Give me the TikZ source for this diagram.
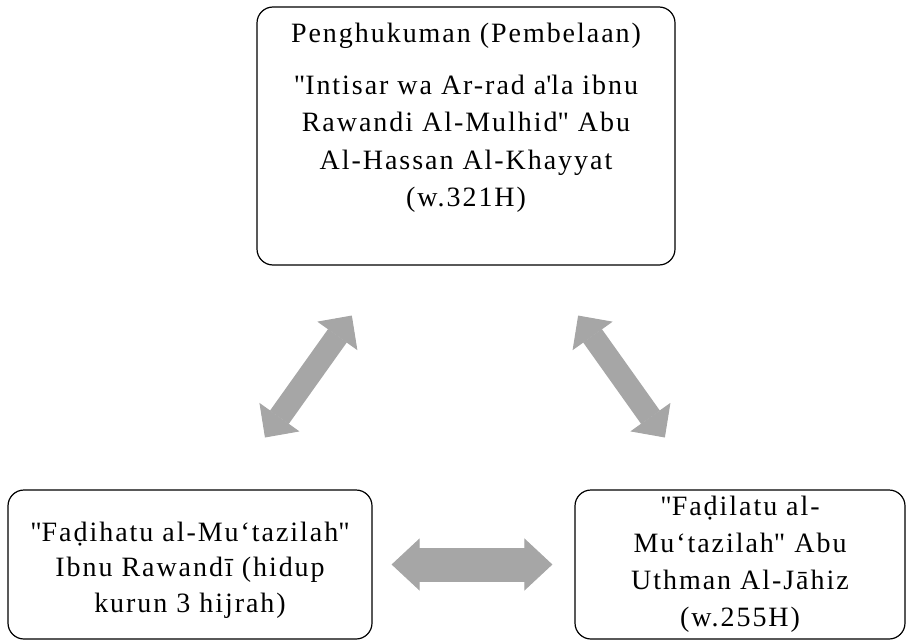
\documentclass[tikz,border=0pt]{standalone}
\usepackage{fontspec}
\setmainfont{Liberation Serif}[LetterSpace=7]
\usetikzlibrary{arrows.meta}

\begin{document}
\begin{tikzpicture}[
      x=1pt, y=-1pt,
      desc/.style={
        rectangle,
        rounded corners=16pt,
        draw=black,
        line width=1.2pt,
        fill=white,
        text centered,
        align=center,
        font=\fontsize{28}{37}\selectfont
      },
      link/.style={
        line width=23pt,
        draw=gray!70,
        {Triangle[width=49pt,length=25pt,line width=1pt]}-{Triangle[width=49pt,length=25pt,line width=1pt]}
      }
    ]
    \useasboundingbox (0,0) rectangle (907,642);

    % Boxes
    \node[desc, minimum width=418pt, minimum height=258pt] (Top) at (466,136) {};
    \node[desc, draw=none, fill=none, anchor=north, yshift=-13pt, font=\fontsize{28}{37.5}\selectfont] (TopText) at (Top.north)
      {Penghukuman (Pembelaan)\\[14pt]
       \textquotedbl Intisar wa Ar-rad a\textquotesingle la ibnu\\
       Rawandi Al-Mulhid\textquotedbl{} Abu\\
       Al-Hassan Al-Khayyat\\
       (w.321H)};
    \node[desc, minimum width=364pt, minimum height=149pt, text height=95pt, text depth=0pt, font=\fontsize{28}{35.5}\selectfont] (Left) at (190,564.5)
      {\textquotedbl Faḍihatu al-Mu‘tazilah\textquotedbl\\
       Ibnu Rawandī (hidup\\
       kurun 3 hijrah)};
    \node[desc, minimum width=330pt, minimum height=149pt] (Right) at (740,564.5)
      {\textquotedbl Faḍilatu al-\\
       Mu‘tazilah\textquotedbl{} Abu\\
       Uthman Al-Jāhiz\\
       (w.255H)};

    % Arrow ends
    \coordinate (LeftUp) at ([xshift=38pt]Left.north);
    \coordinate (TopLeft) at ([xshift=-78.6pt]Top.south);
    \coordinate (TopRight) at ([xshift=76.6pt]Top.south);
    \coordinate (RightUp) at ([xshift=-38.2pt]Right.north);

    % Arrows
    \draw[link, shorten <=63.7pt, shorten >=61.3pt] (LeftUp) -- (TopLeft);
    \draw[link, shorten <=61.3pt, shorten >=63.7pt] (TopRight) -- (RightUp);
    \draw[link, line width=34pt, {Triangle[width=52pt,length=28pt,line width=1pt]}-{Triangle[width=52pt,length=28pt,line width=1pt]}, shorten <=19pt, shorten >=22pt] (Left.east) -- (Right.west);
    \end{tikzpicture}
\end{document}
